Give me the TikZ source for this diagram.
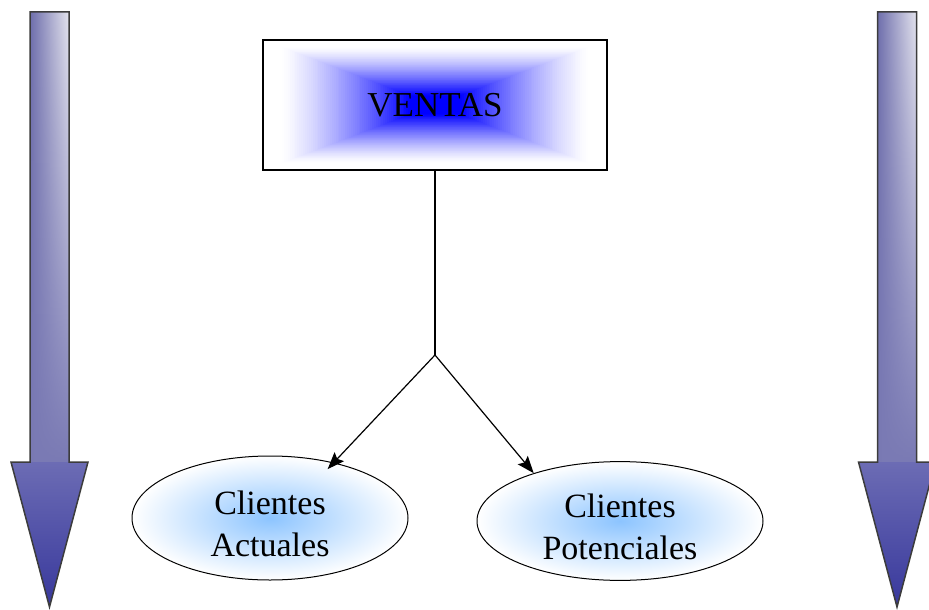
\documentclass[tikz,border=0pt]{standalone}
\usepackage{fontspec}
\setmainfont{Liberation Serif}
\usetikzlibrary{arrows.meta,shapes.geometric,fadings}
\definecolor{shaftdark}{RGB}{110,110,172}
\definecolor{shaftlight}{RGB}{228,228,238}
\definecolor{shaftlow}{RGB}{122,122,180}
\definecolor{headtop}{RGB}{108,108,180}
\definecolor{headbot}{RGB}{56,56,156}
\definecolor{outlinegray}{RGB}{60,60,60}
\definecolor{ellblue}{RGB}{140,196,255}
\newcommand{\twolines}[2]{\raisebox{-9pt}[\height][\depth]{\begin{tabular}{@{}c@{}}#1\\#2\end{tabular}}}
\tikzset{
  lbl/.style={font=\fontsize{34}{42}\selectfont, text=black},
  client/.style={ellipse, draw=black, line width=1pt, lbl, inner sep=0pt,
     shading=radial, inner color=ellblue, outer color=white},
  link/.style={draw=black, line width=1.2pt},
  linkarrow/.style={link, -{Stealth[length=17pt,width=13pt,inset=3pt]}},
  bigarrowline/.style={draw=outlinegray, line width=1.5pt, line join=miter},
}
\begin{document}
\begin{tikzpicture}[x=1pt,y=-1pt]
\useasboundingbox (0,0) rectangle (929,610);
% side arrows
\foreach \cx in {49.5,897} {
  \shade[left color=shaftdark, right color=shaftlight]
    (\cx-19.5,12) rectangle (\cx+19.5,462);
  \fill[shaftlow, path fading=north] (\cx-19.5,12) rectangle (\cx+19.5,462);
  \shade[top color=headtop, bottom color=headbot]
    (\cx-38.5,462) -- (\cx+38.5,462) -- (\cx,607) -- cycle;
  \draw[bigarrowline] (\cx-19.5,12) -- (\cx+19.5,12) -- (\cx+19.5,462)
    -- (\cx+38.5,462) -- (\cx,607) -- (\cx-38.5,462) -- (\cx-19.5,462) -- cycle;
}
% pyramidal shading of the VENTAS box
\foreach \i in {0,...,90} {
  \pgfmathsetmacro{\t}{\i/90}
  \pgfmathsetmacro{\q}{max(0,min(1,(\t-0.1)/0.75))}
  \pgfmathsetmacro{\p}{100*\q^1.3}
  \pgfmathsetmacro{\hw}{172*(1-\t)}
  \pgfmathsetmacro{\hh}{65*(1-\t)}
  \fill[blue!\p!white] (435-\hw,105-\hh) rectangle (435+\hw,105+\hh);
}
\node[draw=black, line width=1.5pt, minimum width=344pt, minimum height=130pt,
      font=\fontsize{35}{42}\selectfont] (ventas) at (435,105) {VENTAS};
% clients
\node[client, minimum width=276pt, minimum height=124pt] (ca) at (270,518)
  {\twolines{Clientes}{Actuales}};
\node[client, minimum width=286pt, minimum height=118pt] (cp) at (620,521)
  {\twolines{Clientes}{Potenciales}};
% connectors
\coordinate (j) at (435,355);
\draw[link] (ventas.south) -- (j);
\draw[linkarrow, shorten >=-9pt] (j) -- (ca.41);
\draw[linkarrow] (j) -- (cp.151);
\end{tikzpicture}
\end{document}
